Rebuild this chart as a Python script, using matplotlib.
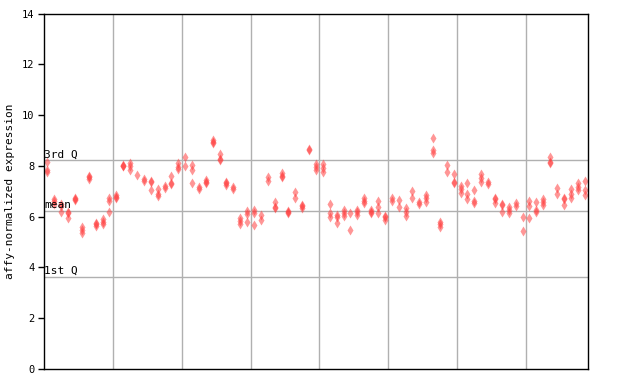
import matplotlib
matplotlib.use("Agg")
import matplotlib.pyplot as plt
from matplotlib.ticker import FixedLocator

# ── Data ─────────────────────────────────────────────────────────────────────
# replicate values per sample, left to right
replicates = [
    [8.15, 7.85, 7.75], [6.7, 6.6, 6.5], [6.5, 6.4, 6.2], [6.2, 6.15, 5.93],
    [6.72, 6.68, 6.65], [5.6, 5.47, 5.35], [7.62, 7.58, 7.5], [5.75, 5.7, 5.62],
    [5.9, 5.78, 5.7], [6.73, 6.62, 6.17], [6.85, 6.78, 6.72], [8.05, 8.0, 7.98],
    [8.12, 8.0, 7.83], [7.64], [7.48, 7.4], [7.4, 7.36, 7.05],
    [7.07, 6.9, 6.8], [7.2, 7.12], [7.6, 7.32, 7.28], [8.12, 7.97, 7.86],
    [8.35, 7.98], [8.03, 7.85, 7.32], [7.18, 7.1], [7.45, 7.35, 7.32],
    [9.0, 8.93, 8.9], [8.48, 8.27, 8.24], [7.38, 7.34, 7.24], [7.18, 7.1],
    [5.93, 5.84, 5.71], [6.23, 6.1, 5.8], [6.26, 6.13, 5.67], [6.06, 5.87],
    [7.55, 7.42], [6.58, 6.37, 6.33], [7.72, 7.62, 7.55], [6.24, 6.2, 6.13],
    [6.98, 6.72], [6.44, 6.4, 6.36], [8.68, 8.62], [8.09, 7.97, 7.83],
    [8.09, 7.9, 7.74], [6.5, 6.15, 5.98], [6.06, 5.97, 5.73], [6.26, 6.13, 6.02],
    [6.13, 5.47], [6.26, 6.19, 6.06], [6.72, 6.63, 6.52], [6.26, 6.2, 6.16],
    [6.61, 6.37, 6.13], [6.04, 6.0, 5.87], [6.72, 6.63], [6.65, 6.39],
    [6.33, 6.19, 6.04], [7.01, 6.74], [6.59, 6.5], [6.85, 6.72, 6.59],
    [9.08, 8.62, 8.52], [5.8, 5.7, 5.58], [8.03, 7.74], [7.66, 7.37, 7.33],
    [7.2, 7.07, 6.94], [7.31, 6.91, 6.69], [7.05, 6.63, 6.55], [7.68, 7.51, 7.35],
    [7.37, 7.28], [6.74, 6.68, 6.55], [6.48, 6.44, 6.17], [6.37, 6.26, 6.13],
    [6.52, 6.42], [5.97, 5.43], [6.61, 6.42, 5.93], [6.56, 6.26, 6.17],
    [6.68, 6.59, 6.46], [8.33, 8.14, 8.1], [7.11, 6.89], [6.74, 6.7, 6.46],
    [7.07, 6.89, 6.72], [7.31, 7.15, 7.05], [7.4, 7.05, 6.85],
]
group_edges = [10.5, 20.5, 30.5, 40.5, 50.5, 60.5, 70.5]
quartile_names = ["3rd Q", "mean", "1st Q"]
quartile_values = [8.22, 6.22, 3.62]
y_ticks = [0, 2, 4, 6, 8, 10, 12, 14]

MONO = "DejaVu Sans Mono"
GRID = "#b0b0b0"

xs, ys = [], []
for i, reps in enumerate(replicates, 1):
    for v in reps:
        xs.append(i)
        ys.append(v)

fig = plt.figure(figsize=(6.4, 3.84), dpi=100)
ax = fig.add_axes([44 / 640, 1 - 369 / 384, 544 / 640, 355.5 / 384])

for e in group_edges:
    ax.axvline(e, color=GRID, lw=1, zorder=1)
for name, q in zip(quartile_names, quartile_values):
    ax.axhline(q, color=GRID, lw=1, zorder=1)
    ax.text(0.5, q + 0.04, name, family=MONO, fontsize=8,
            ha="left", va="bottom", zorder=3)

# thin diamonds, translucent so overlapping replicates look solid
ax.plot(xs, ys, linestyle="none", marker="d", markersize=5.2,
        markerfacecolor="#ff4040", markeredgecolor="none", alpha=0.55,
        zorder=2)

ax.set_xlim(0.5, len(replicates) + 0.5)
ax.set_ylim(0, 14)
ax.set_xticks([])
ax.set_yticks(y_ticks)
ax.set_yticklabels([str(t) for t in y_ticks], family=MONO, fontsize=7.5)
ax.tick_params(axis="y", direction="out", length=4, width=1, pad=3)
ax.yaxis.set_minor_locator(FixedLocator([6, 8]))
ax.tick_params(axis="y", which="minor", direction="in", length=4, width=1,
               left=True, right=True)
ax.set_ylabel("affy-normalized expression", family=MONO, fontsize=8,
              labelpad=5)
for spine in ax.spines.values():
    spine.set_color("black")
    spine.set_linewidth(1)

fig.savefig("out.png", dpi=100)
